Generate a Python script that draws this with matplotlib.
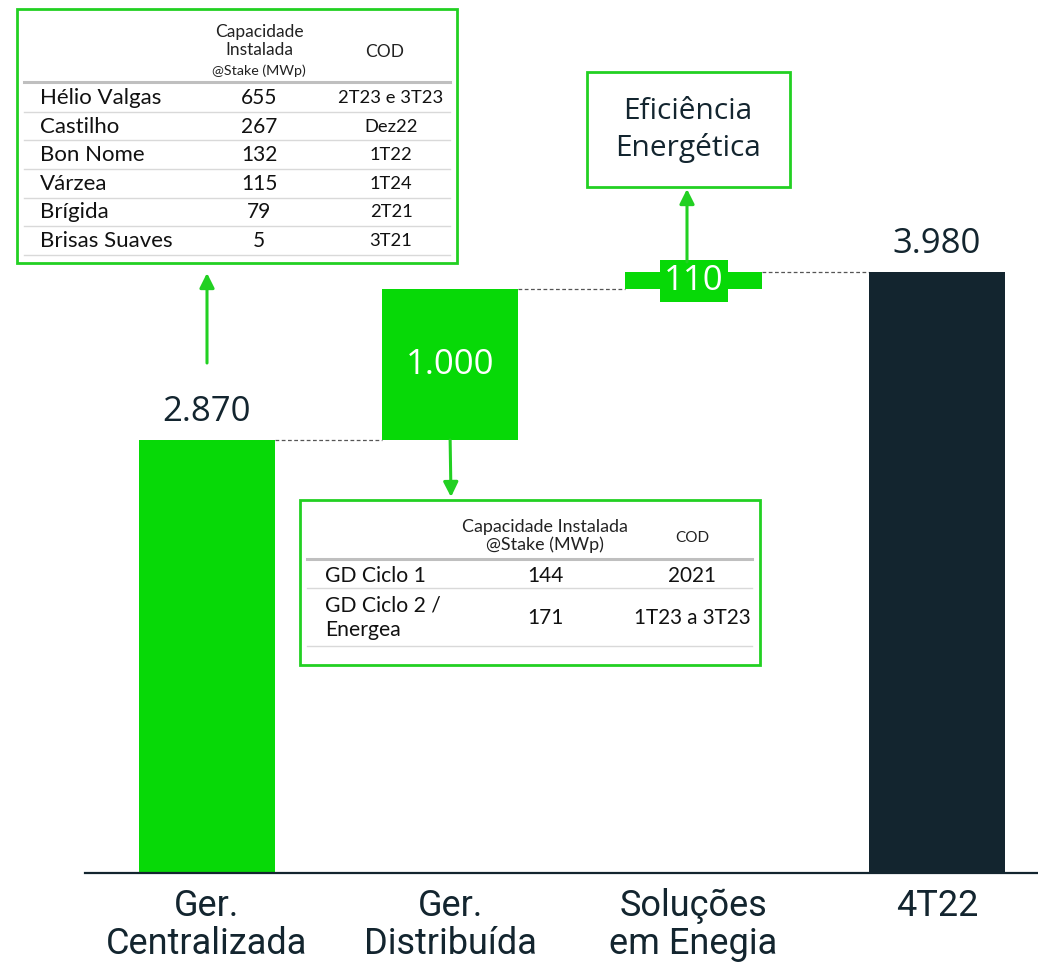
import matplotlib
matplotlib.use("Agg")
import matplotlib.pyplot as plt
from matplotlib.patches import Rectangle

GREEN = "#07D907"
BORDER = "#22D022"
NAVY = "#13252F"
SEP = "#D9D9D9"
HEAD = "#BFBFBF"

# waterfall data
categories = ["Ger.\nCentralizada", "Ger.\nDistribuída", "Soluções\nem Enegia", "4T22"]
steps = [2870, 1000, 110]
total = 3980

# table next to Ger. Centralizada
names1 = ["Hélio Valgas", "Castilho", "Bon Nome", "Várzea", "Brígida", "Brisas Suaves"]
cap1 = [655, 267, 132, 115, 79, 5]
cod1 = ["2T23 e 3T23", "Dez22", "1T22", "1T24", "2T21", "3T21"]

# table under Ger. Distribuída
names2 = ["GD Ciclo 1", "GD Ciclo 2 /\nEnergea"]
cap2 = [144, 171]
cod2 = ["2021", "1T23 a 3T23"]


def br(v):
    return f"{v:,}".replace(",", ".")


W, H = 1038, 963
fig = plt.figure(figsize=(W / 100, H / 100), dpi=100)
ax = fig.add_axes([85 / W, 90 / H, (W - 85) / W, 873 / H])
ax.set_xlim(-0.50, 3.415)
ax.set_ylim(0, 5786)
for s in ["top", "right", "left"]:
    ax.spines[s].set_visible(False)
ax.spines["bottom"].set_color(NAVY)
ax.spines["bottom"].set_linewidth(1.6)
ax.set_yticks([])

bottoms, heights = [], []
run = 0
for v in steps:
    bottoms.append(run)
    heights.append(v)
    run += v
bottoms.append(0)
heights.append(total)
colors = [GREEN, GREEN, GREEN, NAVY]
xs = list(range(len(categories)))
bw = 0.56
ax.bar(xs, heights, bottom=bottoms, width=bw, color=colors, zorder=2)

# connectors
tops = [b + h for b, h in zip(bottoms, heights)]
for i in range(3):
    ax.plot([i + bw / 2, i + 1 - bw / 2], [tops[i], tops[i]], color="#555555",
            linestyle=(0, (3, 2)), lw=0.9, zorder=1)

ax.set_xticks(xs)
ax.set_xticklabels(categories, fontsize=26, color=NAVY, linespacing=1.05,
                   family=["Roboto", "DejaVu Sans"])
ax.tick_params(axis="x", length=0, pad=11)

# value labels
vfont = dict(family=["Open Sans", "DejaVu Sans"], fontsize=25)
ax.annotate(br(heights[0]), (0, tops[0]), xytext=(0, 8), textcoords="offset points",
            ha="center", va="bottom", color=NAVY, **vfont)
ax.annotate(br(heights[3]), (3, tops[3]), xytext=(0, 8), textcoords="offset points",
            ha="center", va="bottom", color=NAVY, **vfont)
ax.text(1, bottoms[1] + heights[1] / 2, br(heights[1]), ha="center", va="center",
        color="white", **vfont)
ax.text(2, bottoms[2] + heights[2] / 2, br(heights[2]), ha="center", va="center",
        color="white", zorder=4,
        bbox=dict(boxstyle="square,pad=0.12", facecolor=GREEN, edgecolor="none"), **vfont)

# overlay in pixel coordinates for the callouts
ov = fig.add_axes([0, 0, 1, 1], zorder=5)
ov.set_xlim(0, W)
ov.set_ylim(H, 0)
ov.axis("off")
ov.patch.set_alpha(0)

tfont = ["Lato", "DejaVu Sans"]
arrow = dict(arrowstyle="-|>", mutation_scale=22, color=BORDER, lw=2.2,
             shrinkA=0, shrinkB=0)

# table 1
ov.add_patch(Rectangle((17, 9), 440, 254, facecolor="white", edgecolor=BORDER, lw=2))
ov.text(259, 41, "Capacidade\nInstalada", ha="center", va="center", fontsize=12.5,
        color="#222222", family=tfont, linespacing=1.2)
ov.text(259, 71, "@Stake (MWp)", ha="center", va="center", fontsize=10.3,
        color="#222222", family=tfont)
ov.text(385, 52, "COD", ha="center", va="center", fontsize=12.5, color="#222222", family=tfont)
ov.plot([24, 450], [82, 82], color=HEAD, lw=2.2)
for i, (n, c, d) in enumerate(zip(names1, cap1, cod1)):
    y = 98 + 28.6 * i
    ov.text(40, y, n, ha="left", va="center", fontsize=16, color="#111111", family=tfont)
    ov.text(259, y, str(c), ha="center", va="center", fontsize=15, color="#111111", family=tfont)
    ov.text(391, y, d, ha="center", va="center", fontsize=13.2, color="#111111", family=tfont)
    ov.plot([24, 450], [y + 13.8, y + 13.8], color=SEP, lw=1)
ov.annotate("", xy=(207, 273), xytext=(207, 363), arrowprops=arrow)

# table 2
ov.add_patch(Rectangle((300, 500), 460, 165, facecolor="white", edgecolor=BORDER, lw=2))
ov.text(545, 536, "Capacidade Instalada\n@Stake (MWp)", ha="center", va="center",
        fontsize=12.9, color="#222222", family=tfont, linespacing=1.15)
ov.text(692, 538, "COD", ha="center", va="center", fontsize=11, color="#222222", family=tfont)
ov.plot([307, 752], [559, 559], color=HEAD, lw=2.2)
rows_y = [576, 618]
for y, n, c, d in zip(rows_y, names2, cap2, cod2):
    ov.text(325, y, n, ha="left", va="center", fontsize=15.2, color="#111111",
            family=tfont, linespacing=1.3)
    ov.text(545, y, str(c), ha="center", va="center", fontsize=15, color="#111111", family=tfont)
    ov.text(692, y, d, ha="center", va="center", fontsize=14.9, color="#111111", family=tfont)
for y in [588, 646]:
    ov.plot([307, 752], [y, y], color=SEP, lw=1)
ov.annotate("", xy=(451, 497), xytext=(1, bottoms[1]), textcoords=ax.transData,
            arrowprops=arrow)

# efficiency box
ov.add_patch(Rectangle((587, 72), 203, 115, facecolor="white", edgecolor=BORDER, lw=2))
ov.text(688, 130, "Eficiência\nEnergética", ha="center", va="center", fontsize=21.5,
        color=NAVY, family=["Open Sans", "DejaVu Sans"], linespacing=1.3)
ov.annotate("", xy=(687, 189), xytext=(687, 262), arrowprops=arrow)

fig.savefig("out.png", dpi=100)
